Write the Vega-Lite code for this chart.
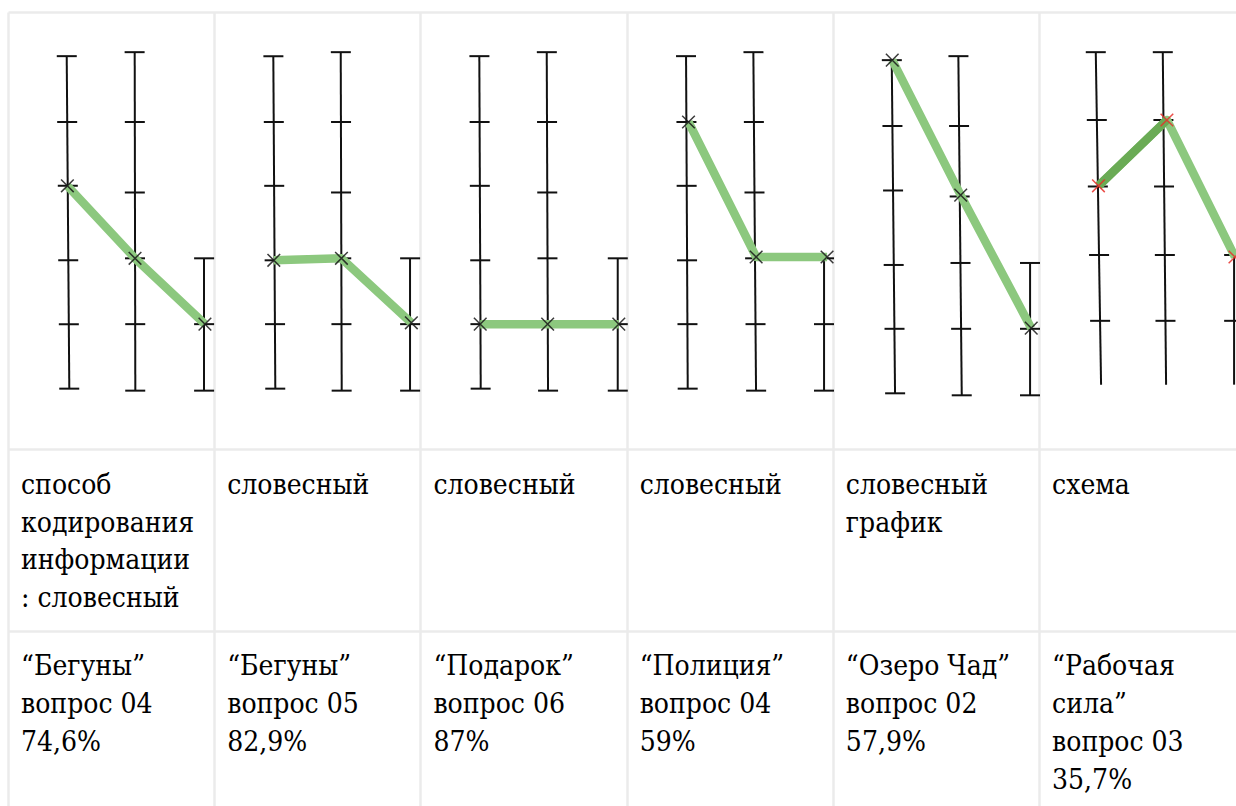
{
  "$schema": "https://vega.github.io/schema/vega-lite/v6.json",
  "width": 1228,
  "height": 794,
  "autosize": {"type": "none"},
  "padding": {"left": 8, "top": 12, "right": 0, "bottom": 0},
  "background": "white",
  "config": {"view": {"stroke": null}},
  "datasets": {
    "axes": [
      {"p": 1, "a": 1, "x": 0.2847, "x2": 0.2973, "y": 5.02, "y2": 0.02},
      {"p": 1, "a": 2, "x": 0.6144, "x2": 0.6174, "y": 5.08, "y2": -0.01},
      {"p": 1, "a": 3, "x": 0.9505, "x2": 0.9505, "y": 1.98, "y2": -0.01},
      {"p": 2, "a": 1, "x": 1.2866, "x2": 1.2963, "y": 5.02, "y2": 0.02},
      {"p": 2, "a": 2, "x": 1.6135, "x2": 1.6183, "y": 5.08, "y2": -0.01},
      {"p": 2, "a": 3, "x": 1.9496, "x2": 1.9496, "y": 1.98, "y2": -0.01},
      {"p": 3, "a": 1, "x": 2.2856, "x2": 2.2924, "y": 5.02, "y2": 0.02},
      {"p": 3, "a": 2, "x": 2.6125, "x2": 2.6188, "y": 5.08, "y2": -0.01},
      {"p": 3, "a": 3, "x": 2.9568, "x2": 2.9568, "y": 1.98, "y2": -0.01},
      {"p": 4, "a": 1, "x": 3.2881, "x2": 3.2963, "y": 5.02, "y2": 0.02},
      {"p": 4, "a": 2, "x": 3.6145, "x2": 3.6275, "y": 5.08, "y2": -0.01},
      {"p": 4, "a": 3, "x": 3.9573, "x2": 3.9573, "y": 1.98, "y2": -0.01},
      {"p": 5, "a": 1, "x": 4.2856, "x2": 4.3016, "y": 4.96, "y2": -0.05},
      {"p": 5, "a": 2, "x": 4.6086, "x2": 4.6251, "y": 5.02, "y2": -0.08},
      {"p": 5, "a": 3, "x": 4.9564, "x2": 4.9564, "y": 1.91, "y2": -0.08},
      {"p": 6, "a": 1, "x": 5.275, "x2": 5.3007, "y": 5.08, "y2": 0.08},
      {"p": 6, "a": 2, "x": 5.5999, "x2": 5.616, "y": 5.08, "y2": 0.08},
      {"p": 6, "a": 3, "x": 5.9457, "x2": 5.9457, "y": 2.03, "y2": 0.08}
    ],
    "ticks": [
      {"p": 1, "x": 0.285, "y": 5.02}, {"p": 1, "x": 0.287, "y": 4.03}, {"p": 1, "x": 0.29, "y": 3.07}, {"p": 1, "x": 0.292, "y": 1.95}, {"p": 1, "x": 0.295, "y": 0.99}, {"p": 1, "x": 0.297, "y": 0.02},
      {"p": 1, "x": 0.614, "y": 5.08}, {"p": 1, "x": 0.615, "y": 4.03}, {"p": 1, "x": 0.615, "y": 2.97}, {"p": 1, "x": 0.616, "y": 1.98}, {"p": 1, "x": 0.617, "y": 0.99}, {"p": 1, "x": 0.617, "y": -0.01},
      {"p": 1, "x": 0.951, "y": 1.98}, {"p": 1, "x": 0.951, "y": 0.99}, {"p": 1, "x": 0.951, "y": -0.01},
      {"p": 2, "x": 1.287, "y": 5.02}, {"p": 2, "x": 1.289, "y": 4.03}, {"p": 2, "x": 1.291, "y": 3.07}, {"p": 2, "x": 1.293, "y": 1.95}, {"p": 2, "x": 1.295, "y": 0.99}, {"p": 2, "x": 1.296, "y": 0.02},
      {"p": 2, "x": 1.614, "y": 5.08}, {"p": 2, "x": 1.615, "y": 4.03}, {"p": 2, "x": 1.615, "y": 2.97}, {"p": 2, "x": 1.616, "y": 1.98}, {"p": 2, "x": 1.617, "y": 0.99}, {"p": 2, "x": 1.618, "y": -0.01},
      {"p": 2, "x": 1.95, "y": 1.98}, {"p": 2, "x": 1.95, "y": 0.99}, {"p": 2, "x": 1.95, "y": -0.01},
      {"p": 3, "x": 2.286, "y": 5.02}, {"p": 3, "x": 2.287, "y": 4.03}, {"p": 3, "x": 2.288, "y": 3.07}, {"p": 3, "x": 2.29, "y": 1.95}, {"p": 3, "x": 2.291, "y": 0.99}, {"p": 3, "x": 2.292, "y": 0.02},
      {"p": 3, "x": 2.613, "y": 5.08}, {"p": 3, "x": 2.614, "y": 4.03}, {"p": 3, "x": 2.615, "y": 2.97}, {"p": 3, "x": 2.616, "y": 1.98}, {"p": 3, "x": 2.617, "y": 0.99}, {"p": 3, "x": 2.619, "y": -0.01},
      {"p": 3, "x": 2.957, "y": 1.98}, {"p": 3, "x": 2.957, "y": 0.99}, {"p": 3, "x": 2.957, "y": -0.01},
      {"p": 4, "x": 3.288, "y": 5.02}, {"p": 4, "x": 3.29, "y": 4.03}, {"p": 4, "x": 3.291, "y": 3.07}, {"p": 4, "x": 3.293, "y": 1.95}, {"p": 4, "x": 3.295, "y": 0.99}, {"p": 4, "x": 3.296, "y": 0.02},
      {"p": 4, "x": 3.615, "y": 5.08}, {"p": 4, "x": 3.617, "y": 4.03}, {"p": 4, "x": 3.62, "y": 2.97}, {"p": 4, "x": 3.623, "y": 1.98}, {"p": 4, "x": 3.625, "y": 0.99}, {"p": 4, "x": 3.628, "y": -0.01},
      {"p": 4, "x": 3.957, "y": 1.98}, {"p": 4, "x": 3.957, "y": 0.99}, {"p": 4, "x": 3.957, "y": -0.01},
      {"p": 5, "x": 4.286, "y": 4.96}, {"p": 5, "x": 4.289, "y": 3.97}, {"p": 5, "x": 4.292, "y": 3.0}, {"p": 5, "x": 4.295, "y": 1.88}, {"p": 5, "x": 4.299, "y": 0.92}, {"p": 5, "x": 4.302, "y": -0.05},
      {"p": 5, "x": 4.609, "y": 5.02}, {"p": 5, "x": 4.612, "y": 3.97}, {"p": 5, "x": 4.615, "y": 2.91}, {"p": 5, "x": 4.619, "y": 1.91}, {"p": 5, "x": 4.622, "y": 0.92}, {"p": 5, "x": 4.625, "y": -0.08},
      {"p": 5, "x": 4.956, "y": 1.91}, {"p": 5, "x": 4.956, "y": 0.92}, {"p": 5, "x": 4.956, "y": -0.08},
      {"p": 6, "x": 5.275, "y": 5.08}, {"p": 6, "x": 5.28, "y": 4.06}, {"p": 6, "x": 5.285, "y": 3.06}, {"p": 6, "x": 5.291, "y": 2.03}, {"p": 6, "x": 5.296, "y": 1.04},
      {"p": 6, "x": 5.6, "y": 5.08}, {"p": 6, "x": 5.603, "y": 4.06}, {"p": 6, "x": 5.606, "y": 3.06}, {"p": 6, "x": 5.61, "y": 2.03}, {"p": 6, "x": 5.613, "y": 1.04},
      {"p": 6, "x": 5.946, "y": 2.03}, {"p": 6, "x": 5.946, "y": 1.04}
    ],
    "path": [
      {"p": 1, "s": "main", "o": 1, "x": 0.288, "y": 3.07},
      {"p": 1, "s": "main", "o": 2, "x": 0.616, "y": 1.98},
      {"p": 1, "s": "main", "o": 3, "x": 0.955, "y": 0.99},
      {"p": 2, "s": "main", "o": 1, "x": 1.289, "y": 1.95},
      {"p": 2, "s": "main", "o": 2, "x": 1.617, "y": 1.98},
      {"p": 2, "s": "main", "o": 3, "x": 1.956, "y": 1.01},
      {"p": 3, "s": "main", "o": 1, "x": 2.29, "y": 0.99},
      {"p": 3, "s": "main", "o": 2, "x": 2.617, "y": 0.99},
      {"p": 3, "s": "main", "o": 3, "x": 2.962, "y": 0.99},
      {"p": 4, "s": "main", "o": 1, "x": 3.3, "y": 4.03},
      {"p": 4, "s": "main", "o": 2, "x": 3.628, "y": 2.0},
      {"p": 4, "s": "main", "o": 3, "x": 3.972, "y": 2.0},
      {"p": 5, "s": "main", "o": 1, "x": 4.288, "y": 4.96},
      {"p": 5, "s": "main", "o": 2, "x": 4.62, "y": 2.93},
      {"p": 5, "s": "main", "o": 3, "x": 4.962, "y": 0.93},
      {"p": 6, "s": "main", "o": 1, "x": 5.288, "y": 3.07},
      {"p": 6, "s": "main", "o": 2, "x": 5.62, "y": 4.06},
      {"p": 6, "s": "main", "o": 3, "x": 5.95, "y": 2.0},
      {"p": 6, "s": "overlap", "o": 1, "x": 5.288, "y": 3.07},
      {"p": 6, "s": "overlap", "o": 2, "x": 5.62, "y": 4.06}
    ],
    "method": [
      {"col": 0, "text": "способ\nкодирования\nинформации\n: словесный"},
      {"col": 1, "text": "словесный"},
      {"col": 2, "text": "словесный"},
      {"col": 3, "text": "словесный"},
      {"col": 4, "text": "словесный\nграфик"},
      {"col": 5, "text": "схема"}
    ],
    "source": [
      {"col": 0, "text": "“Бегуны”\nвопрос 04\n74,6%"},
      {"col": 1, "text": "“Бегуны”\nвопрос 05\n82,9%"},
      {"col": 2, "text": "“Подарок”\nвопрос 06\n87%"},
      {"col": 3, "text": "“Полиция”\nвопрос 04\n59%"},
      {"col": 4, "text": "“Озеро Чад”\nвопрос 02\n57,9%"},
      {"col": 5, "text": "“Рабочая\nсила”\nвопрос 03\n35,7%"}
    ]
  },
  "layer": [
    {
      "data": {"name": "axes"},
      "mark": {"type": "rule", "color": "#111111", "strokeWidth": 2},
      "encoding": {
        "x": {
          "field": "x", "type": "quantitative",
          "scale": {"domain": [0, 5.955], "nice": false, "zero": false},
          "axis": {"values": [0, 1, 2, 3, 4, 5], "grid": true, "gridColor": "#ebebeb", "gridWidth": 2.5, "domain": false, "ticks": false, "labels": false, "title": null, "minExtent": 0, "maxExtent": 0}
        },
        "x2": {"field": "x2"},
        "y": {
          "field": "y", "type": "quantitative",
          "scale": {"domain": [-6.256, 5.684], "nice": false, "zero": false},
          "axis": {"values": [5.684, -0.887, -3.624], "grid": true, "gridColor": "#ebebeb", "gridWidth": 2.5, "domain": false, "ticks": false, "labels": false, "title": null, "minExtent": 0, "maxExtent": 0}
        },
        "y2": {"field": "y2"}
      }
    },
    {
      "data": {"name": "ticks"},
      "mark": {"type": "tick", "orient": "horizontal", "color": "#111111", "size": 20, "thickness": 2, "opacity": 1},
      "encoding": {
        "x": {"field": "x", "type": "quantitative"},
        "y": {"field": "y", "type": "quantitative"}
      }
    },
    {
      "data": {"name": "path"},
      "mark": {"type": "line", "strokeWidth": 8.5, "strokeCap": "butt", "strokeJoin": "round"},
      "encoding": {
        "x": {"field": "x", "type": "quantitative"},
        "y": {"field": "y", "type": "quantitative"},
        "detail": {"field": "p", "type": "nominal"},
        "order": {"field": "o", "type": "quantitative"},
        "color": {"field": "s", "type": "nominal", "scale": {"domain": ["main", "overlap"], "range": ["#8cc87e", "#6aab55"]}, "legend": null}
      }
    },
    {
      "data": {"name": "path"},
      "transform": [{"filter": "datum.s === 'main'"}],
      "mark": {"type": "point", "shape": "M-1,-1L1,1M-1,1L1,-1", "size": 160, "strokeWidth": 1.5, "filled": false, "opacity": 0.85},
      "encoding": {
        "x": {"field": "x", "type": "quantitative"},
        "y": {"field": "y", "type": "quantitative"},
        "color": {"condition": {"test": "datum.p === 6", "value": "#e8302a"}, "value": "#1a1a1a"}
      }
    },
    {
      "data": {"name": "method"},
      "mark": {"type": "text", "font": "'DejaVu Serif Condensed', 'DejaVu Serif', serif", "fontSize": 28, "lineBreak": "\n", "lineHeight": 37.7, "align": "left", "baseline": "alphabetic", "dx": 13, "color": "#000000"},
      "encoding": {
        "x": {"field": "col", "type": "quantitative"},
        "y": {"datum": -1.564},
        "text": {"field": "text"}
      }
    },
    {
      "data": {"name": "source"},
      "mark": {"type": "text", "font": "'DejaVu Serif Condensed', 'DejaVu Serif', serif", "fontSize": 28, "lineBreak": "\n", "lineHeight": 37.9, "align": "left", "baseline": "alphabetic", "dx": 13, "color": "#000000"},
      "encoding": {
        "x": {"field": "col", "type": "quantitative"},
        "y": {"datum": -4.286},
        "text": {"field": "text"}
      }
    }
  ]
}
